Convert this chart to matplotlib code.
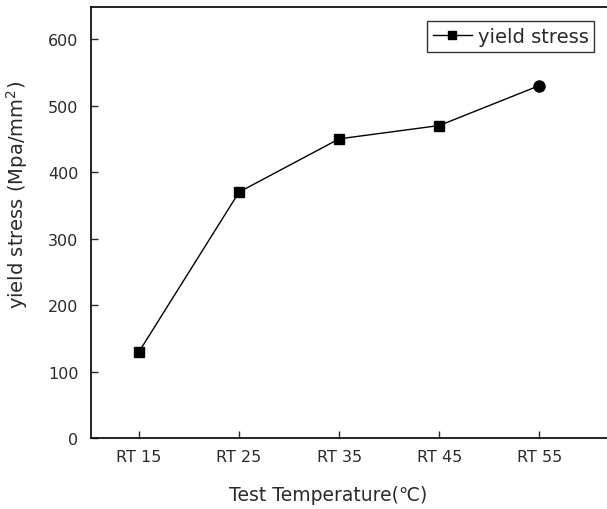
import matplotlib
matplotlib.use("Agg")
import matplotlib.pyplot as plt

plt.rcParams['font.family'] = ['DejaVu Sans']

categories = ["RT 15", "RT 25", "RT 35", "RT 45", "RT 55"]
yield_stress = [130, 370, 450, 470, 530]
y_ticks = [0, 100, 200, 300, 400, 500, 600]

fig = plt.figure(figsize=(6.07, 5.10), dpi=100)
ax = fig.add_axes([0.150, 0.139, 0.862, 0.845])

x = list(range(len(categories)))
ax.plot(x[:-1], yield_stress[:-1], color='black', lw=1.0, marker='s', ms=7,
        zorder=3)
ax.plot(x[-2:], yield_stress[-2:], color='black', lw=1.0, zorder=2)
ax.plot(x[-1:], yield_stress[-1:], color='black', marker='o', ms=8, ls='none', zorder=3)
# legend proxy: line with a small square marker
ax.plot([], [], color='black', lw=1.0, marker='s', ms=6, label='yield stress')

ax.set_xlim(-0.48, 4.75)
ax.set_ylim(0, 648)
ax.set_xticks(x)
ax.set_xticklabels(categories)
ax.set_yticks(y_ticks)

ax.tick_params(direction='in', length=5, width=1, labelsize=11.5, colors='#2a2a2a',
               top=False, right=False)
ax.tick_params(axis='x', pad=8)
ax.tick_params(axis='y', pad=9)
for s in ax.spines.values():
    s.set_linewidth(1.2)

ax.set_xlabel('Test Temperature(℃)', fontsize=13.5, color='#2a2a2a')
ax.set_ylabel('yield stress (Mpa/mm$^2$)', fontsize=14, color='#2a2a2a')
ax.xaxis.set_label_coords(0.453, -0.108)
ax.yaxis.set_label_coords(-0.117, 0.566)

leg = ax.legend(loc='upper right', bbox_to_anchor=(0.962, 0.9675), fontsize=14,
                frameon=True, fancybox=False, edgecolor='black', handlelength=2.0,
                handletextpad=0.3, borderpad=0.3, borderaxespad=0.0)
leg.get_frame().set_linewidth(1.0)
for t in leg.get_texts():
    t.set_color('#2a2a2a')

fig.savefig('out.png', dpi=100)
